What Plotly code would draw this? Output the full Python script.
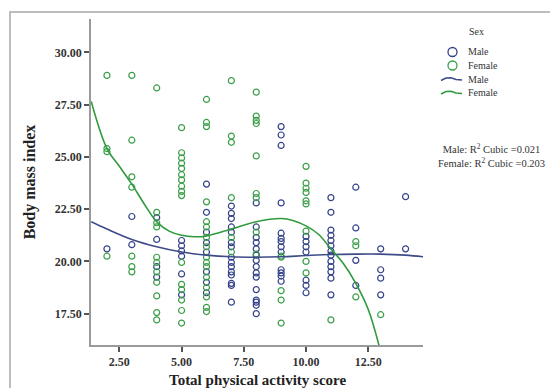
import plotly.graph_objects as go

# ---- scatter data (Total physical activity score, Body mass index) ----
male_x = [2,
          3, 3,
          4, 4, 4, 4,
          5, 5, 5, 5, 5, 5,
          6, 6, 6, 6, 6, 6, 6, 6,
          7, 7, 7, 7, 7, 7, 7, 7, 7, 7, 7, 7, 7, 7, 7,
          8, 8, 8, 8, 8, 8, 8, 8, 8, 8, 8, 8, 8, 8, 8,
          9, 9, 9, 9, 9, 9, 9, 9, 9, 9, 9, 9, 9,
          10, 10, 10, 10, 10, 10, 10,
          11, 11, 11, 11, 11, 11, 11, 11, 11, 11, 11, 11, 11,
          12, 12, 12, 12,
          13, 13, 13, 13,
          14, 14]
male_y = [20.6,
          22.15, 20.8,
          22.1, 21.05, 19.75, 19.25,
          21.0, 20.75, 20.5, 20.25, 19.4, 18.4,
          23.7, 22.35, 21.4, 20.9, 20.45, 19.5, 19.0, 18.5,
          22.65, 22.3, 22.05, 21.65, 21.4, 20.9, 20.7, 20.2, 19.95, 19.75, 19.5, 19.35, 18.95, 18.85, 18.05,
          22.8, 21.65, 21.15, 20.9, 20.6, 20.05, 19.75, 19.45, 19.25, 18.65, 18.15, 17.9, 17.5, 20.3, 18.05,
          26.45, 26.05, 25.55, 22.8, 21.35, 21.1, 20.95, 20.7, 20.45, 19.6, 19.45, 19.3, 19.05,
          21.2, 20.95, 20.7, 20.45, 19.1, 18.85, 18.5,
          23.05, 22.35, 21.5, 21.25, 21.0, 20.75, 20.5, 20.3, 20.0, 19.75, 19.5, 19.2, 18.4,
          23.55, 21.6, 20.05, 18.85,
          20.6, 19.6, 19.2, 18.4,
          23.1, 20.6]

female_x = [2, 2, 2, 2,
            3, 3, 3, 3, 3, 3, 3,
            4, 4, 4, 4, 4, 4, 4, 4, 4, 4, 4,
            5, 5, 5, 5, 5, 5, 5, 5, 5, 5, 5, 5, 5, 5, 5, 5,
            6, 6, 6, 6, 6, 6, 6, 6, 6, 6, 6, 6, 6, 6, 6, 6,
            7, 7, 7, 7, 7, 7,
            8, 8, 8, 8, 8, 8, 8, 8, 8,
            9, 9, 9, 9, 9,
            10, 10, 10, 10, 10, 10, 10, 10, 10,
            11,
            12, 12, 12,
            13]
female_y = [28.9, 25.4, 25.25, 20.25,
            28.9, 25.8, 24.05, 23.55, 20.25, 19.75, 19.5,
            28.3, 22.35, 21.85, 21.65, 20.2, 19.95, 19.5, 19.0, 18.35, 17.55, 17.2,
            26.4, 25.2, 24.95, 24.7, 24.45, 24.15, 23.9, 23.6, 23.35, 23.15, 19.95, 18.9, 18.65, 18.15, 17.65, 17.05,
            27.75, 26.65, 26.45, 22.85, 21.65, 21.15, 20.7, 20.2, 19.95, 19.75, 19.25, 18.75, 18.3, 17.8, 17.6, 21.9,
            28.65, 26.0, 25.7, 23.05, 21.15, 20.45,
            28.1, 26.95, 26.75, 26.6, 25.05, 23.25, 23.05, 21.4, 20.35,
            20.25, 20.2, 18.6, 18.15, 17.05,
            24.55, 23.75, 23.5, 23.3, 22.9, 22.75, 21.45, 20.0, 19.45,
            17.2,
            20.95, 20.75, 18.3,
            17.45]

# ---- cubic fit lines ----
male_fit_x = [1.37, 2, 3, 4, 5, 6, 7, 8, 9, 10, 11, 12, 13, 14, 14.7]
male_fit_y = [21.9, 21.55, 21.05, 20.7, 20.45, 20.3, 20.22, 20.2, 20.22, 20.28, 20.33, 20.35, 20.35, 20.3, 20.22]
female_fit_x = [1.37, 2, 2.5, 3, 3.5, 4, 4.5, 5, 5.5, 6, 7, 8, 9, 9.5, 10, 10.5, 11, 11.5, 12, 12.5, 12.95]
female_fit_y = [27.65, 25.4, 24.55, 23.7, 22.75, 21.9, 21.45, 21.25, 21.18, 21.22, 21.55, 21.9, 22.05,
                21.95, 21.7, 21.3, 20.6, 19.9, 18.95, 17.7, 15.9]

x_ticks = [2.5, 5.0, 7.5, 10.0, 12.5]
y_ticks = [17.5, 20.0, 22.5, 25.0, 27.5, 30.0]

x_title = "Total physical activity score"
y_title = "Body mass index"
legend_title = "Sex"
legend_labels = ["Male", "Female", "Male", "Female"]
fit_labels = ["Male: R<sup>2</sup> Cubic =0.021", "Female: R<sup>2</sup> Cubic =0.203"]

MALE_C = "#34428a"
FEMALE_C = "#3a9e48"
MALE_LINE = "#3e4b89"
FEMALE_LINE = "#2f9a3c"
SERIF = "Liberation Serif"

# plot area in pixels (for converting placement to paper coords)
L, R, T, B = 91, 423, 19, 345
def px(xp):
    return (xp - L) / (R - L)
def py(yp):
    return (B - yp) / (B - T)

fig = go.Figure()
fig.add_trace(go.Scatter(x=male_x, y=male_y, mode="markers", name="Male", showlegend=False,
                         marker=dict(symbol="circle-open", size=6, color=MALE_C, line=dict(width=1.2, color=MALE_C))))
fig.add_trace(go.Scatter(x=female_x, y=female_y, mode="markers", name="Female", showlegend=False,
                         marker=dict(symbol="circle-open", size=6, color=FEMALE_C, line=dict(width=1.2, color=FEMALE_C))))
fig.add_trace(go.Scatter(x=male_fit_x, y=male_fit_y, mode="lines", name="Male", showlegend=False,
                         line=dict(color=MALE_LINE, width=1.6, shape="spline")))
fig.add_trace(go.Scatter(x=female_fit_x, y=female_fit_y, mode="lines", name="Female", showlegend=False,
                         line=dict(color=FEMALE_LINE, width=1.6, shape="spline")))

axis_common = dict(showline=True, linecolor="#9a9a9a", linewidth=1.5, ticks="outside", ticklen=5,
                   tickwidth=1.5, tickcolor="#555555", showgrid=False, zeroline=False,
                   tickformat=".2f",
                   tickfont=dict(family=SERIF, size=12, color="#333333", weight="bold"))

fig.update_layout(
    width=550, height=388,
    margin=dict(l=L, r=550 - R, t=T, b=388 - B),
    paper_bgcolor="white", plot_bgcolor="white",
    xaxis=dict(range=[1.36, 14.7], tickvals=x_ticks, **axis_common),
    yaxis=dict(range=[16.0, 31.6], tickvals=y_ticks, **axis_common,
               title=dict(text=y_title, standoff=15,
                          font=dict(family=SERIF, size=16, color="#222222", weight="bold"))),
    showlegend=False,
)

# x-axis title placed as an annotation (the margin would otherwise hold it too high)
fig.add_annotation(xref="paper", yref="paper", x=px(257.5), y=py(380), xanchor="center", yanchor="middle",
                   showarrow=False, text=x_title,
                   font=dict(family=SERIF, size=15, color="#222222", weight="bold"))

# ---- legend drawn by hand (compact, like the reference) ----
lg_font = dict(family=SERIF, size=10, color="#333333")
fig.add_annotation(xref="paper", yref="paper", x=px(476), y=py(32), text=legend_title,
                   showarrow=False, xanchor="center", yanchor="middle", font=lg_font)
rows_y = [52, 65.5, 79, 92.5]
for lab, yy in zip(legend_labels, rows_y):
    fig.add_annotation(xref="paper", yref="paper", x=px(466), y=py(yy), text=lab,
                       showarrow=False, xanchor="left", yanchor="middle", font=lg_font)
for col, yy in zip([MALE_C, FEMALE_C], rows_y[:2]):
    fig.add_shape(type="circle", xref="paper", yref="paper",
                  x0=px(448), x1=px(457), y0=py(yy + 4.5), y1=py(yy - 4.5),
                  line=dict(color=col, width=1.3))
for col, yy in zip([MALE_LINE, FEMALE_LINE], rows_y[2:]):
    pts = [(441, yy + 1.5), (446, yy - 1), (451, yy - 1.2), (456, yy + 0.5), (462, yy + 1)]
    path = "M " + " L ".join(f"{px(a):.5f},{py(b):.5f}" for a, b in pts)
    fig.add_shape(type="path", xref="paper", yref="paper", path=path,
                  line=dict(color=col, width=1.5))

# R^2 annotation
fig.add_annotation(xref="paper", yref="paper", x=px(491), y=py(155), xanchor="center", yanchor="middle",
                   showarrow=False, align="center",
                   text=fit_labels[0] + "<br>" + fit_labels[1],
                   font=dict(family=SERIF, size=10.5, color="#333333"))

# outer frame
fig.add_shape(type="rect", xref="paper", yref="paper", x0=px(10), x1=px(552), y0=py(395), y1=py(12),
              line=dict(color="#bdbdbd", width=2), layer="above")

fig.write_html("out.html", config={"displayModeBar": False},
               post_script="document.body.style.margin='0';")
